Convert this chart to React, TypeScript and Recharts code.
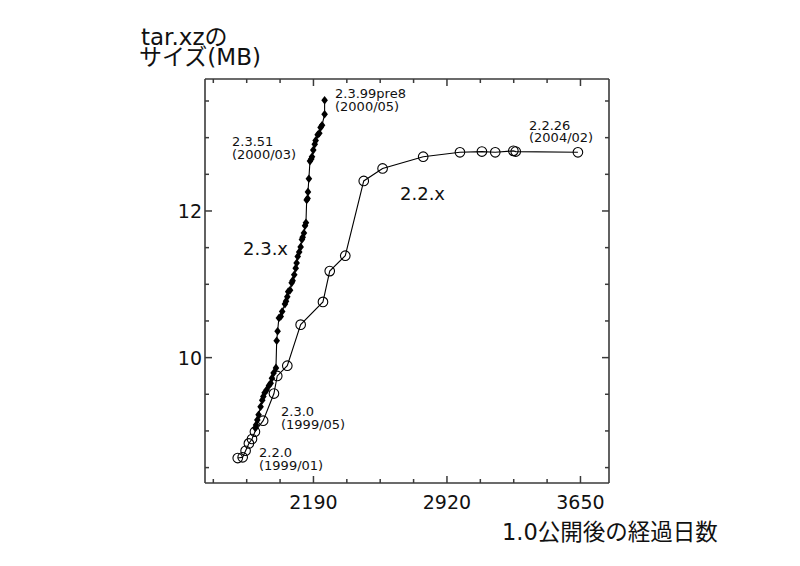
import React from "react";
import { LineChart, Line, XAxis, YAxis } from "recharts";

// ---- data ----
const days22 = [1776, 1803, 1819, 1837, 1854, 1870, 1915, 1974, 1992, 2047, 2120, 2242, 2279, 2364, 2465, 2568, 2790, 2991, 3111, 3184, 3283, 3296, 3636];
const mb22 = [8.63, 8.64, 8.73, 8.83, 8.89, 8.99, 9.14, 9.51, 9.75, 9.89, 10.45, 10.76, 11.18, 11.39, 12.41, 12.58, 12.74, 12.8, 12.81, 12.8, 12.82, 12.81, 12.8];

const days23 = [1872, 1876, 1883, 1890, 1901, 1910, 1916, 1923, 1934, 1947, 1956, 1963, 1972, 1985, 1989, 1994, 2001, 2011, 2019, 2034, 2040, 2047, 2052, 2062, 2071, 2076, 2085, 2093, 2098, 2104, 2112, 2120, 2127, 2131, 2138, 2144, 2149, 2153, 2158, 2160, 2165, 2171, 2178, 2182, 2189, 2197, 2202, 2213, 2222, 2229, 2237, 2251, 2251];
const mb23 = [9.04, 9.08, 9.15, 9.22, 9.33, 9.42, 9.47, 9.52, 9.56, 9.62, 9.65, 9.72, 9.79, 9.86, 10.23, 10.36, 10.54, 10.56, 10.63, 10.73, 10.77, 10.83, 10.9, 10.92, 11.02, 11.05, 11.13, 11.22, 11.29, 11.38, 11.44, 11.51, 11.61, 11.64, 11.7, 11.8, 11.84, 12.15, 12.17, 12.26, 12.44, 12.68, 12.71, 12.74, 12.83, 12.91, 12.96, 13.04, 13.06, 13.14, 13.17, 13.32, 13.51];

const xTicks = [1642.5, 1825, 2007.5, 2190, 2372.5, 2555, 2737.5, 2920, 3102.5, 3285, 3467.5, 3650];
const xMajorTicks = [2190, 2920, 3650];
const yTicks = [8.5, 9, 9.5, 10, 10.5, 11, 11.5, 12, 12.5, 13, 13.5];
const yMajorTicks = [10, 12];
const xDomain = [1597, 3806];
const yDomain = [8.29, 13.8];

const yTitleLines = ["tar.xzの", "サイズ(MB)"];
const xTitle = "1.0公開後の経過日数";
const seriesNames = ["2.2.x", "2.3.x"];
const notes = [
  { v: "2.3.99pre8", d: "(2000/05)" },
  { v: "2.3.51", d: "(2000/03)" },
  { v: "2.2.26", d: "(2004/02)" },
  { v: "2.3.0", d: "(1999/05)" },
  { v: "2.2.0", d: "(1999/01)" },
];

const data22 = days22.map((d, i) => ({ d, mb: mb22[i] }));
const data23 = days23.map((d, i) => ({ d, mb: mb23[i] }));

// ---- styles ----
const FONT = "'DejaVu Sans', 'Noto Sans CJK JP', sans-serif";
const AXIS = "#3a3a3a";
const TICK_FONT = 19;

const makeXTick = (top: boolean) => (props: any) => {
  const { x, y, payload } = props;
  const major = xMajorTicks.includes(payload.value);
  const len = major ? 7 : 4;
  return (
    <g>
      <line x1={x} x2={x} y1={y} y2={top ? y + len : y - len} stroke={AXIS} strokeWidth={1.5} />
      {major && !top && (
        <text x={x} y={y + 26} textAnchor="middle" fontFamily={FONT} fontSize={TICK_FONT} fill="#111">
          {payload.value}
        </text>
      )}
    </g>
  );
};

const makeYTick = (right: boolean) => (props: any) => {
  const { x, y, payload } = props;
  const major = yMajorTicks.includes(payload.value);
  const len = major ? 7 : 4;
  return (
    <g>
      <line x1={x} x2={right ? x - len : x + len} y1={y} y2={y} stroke={AXIS} strokeWidth={1.5} />
      {major && !right && (
        <text x={x - 3} y={y + 7} textAnchor="end" fontFamily={FONT} fontSize={TICK_FONT} fill="#111">
          {payload.value}
        </text>
      )}
    </g>
  );
};

const circleDot = (props: any) => {
  const { cx, cy, index } = props;
  return <circle key={`c${index}`} cx={cx} cy={cy} r={4.8} fill="none" stroke="#000" strokeWidth={1.1} />;
};

const diamondDot = (props: any) => {
  const { cx, cy, index } = props;
  const w = 3.3;
  const h = 4.3;
  return (
    <polygon
      key={`d${index}`}
      points={`${cx},${cy - h} ${cx + w},${cy} ${cx},${cy + h} ${cx - w},${cy}`}
      fill="#000"
      stroke="none"
    />
  );
};

const Note = ({ x, y, note, gap = 12.5 }: any) => (
  <text x={x} y={y} fontSize={13} fontFamily={FONT} fill="#111">
    <tspan x={x} y={y}>{note.v}</tspan>
    <tspan x={x} y={y + gap}>{note.d}</tspan>
  </text>
);

export default function App() {
  return (
    <div style={{ position: "absolute", left: 0, top: 0, width: 800, height: 566, background: "#fff" }}>
      <LineChart width={800} height={566} margin={{ top: 0, right: 0, bottom: 0, left: 0 }}>
        <XAxis
          xAxisId="b"
          dataKey="d"
          type="number"
          orientation="bottom"
          height={83}
          domain={xDomain}
          allowDataOverflow
          ticks={xTicks}
          interval={0}
          tickSize={0}
          tickMargin={0}
          tickLine={false}
          tick={makeXTick(false)}
          axisLine={{ stroke: AXIS, strokeWidth: 1.6 }}
        />
        <XAxis
          xAxisId="t"
          dataKey="d"
          type="number"
          orientation="top"
          height={79}
          domain={xDomain}
          allowDataOverflow
          ticks={xTicks}
          interval={0}
          tickSize={0}
          tickMargin={0}
          tickLine={false}
          tick={makeXTick(true)}
          axisLine={{ stroke: AXIS, strokeWidth: 1.6 }}
        />
        <YAxis
          yAxisId="l"
          type="number"
          orientation="left"
          width={205}
          domain={yDomain}
          allowDataOverflow
          ticks={yTicks}
          interval={0}
          tickSize={0}
          tickMargin={0}
          tickLine={false}
          tick={makeYTick(false)}
          axisLine={{ stroke: AXIS, strokeWidth: 1.6 }}
        />
        <YAxis
          yAxisId="r"
          type="number"
          orientation="right"
          width={191}
          domain={yDomain}
          allowDataOverflow
          ticks={yTicks}
          interval={0}
          tickSize={0}
          tickMargin={0}
          tickLine={false}
          tick={makeYTick(true)}
          axisLine={{ stroke: AXIS, strokeWidth: 1.6 }}
        />
        <Line
          xAxisId="b"
          yAxisId="l"
          data={data22}
          dataKey="mb"
          name={seriesNames[0]}
          stroke="#000"
          strokeWidth={1.1}
          dot={circleDot}
          isAnimationActive={false}
        />
        <Line
          xAxisId="b"
          yAxisId="l"
          data={data23}
          dataKey="mb"
          name={seriesNames[1]}
          stroke="#000"
          strokeWidth={1.1}
          dot={diamondDot}
          isAnimationActive={false}
        />
      </LineChart>
      <svg
        width={800}
        height={566}
        style={{ position: "absolute", left: 0, top: 0, pointerEvents: "none" }}
      >
        <text fontSize={23} fontFamily={FONT} fill="#111">
          <tspan x={141} y={45}>{yTitleLines[0]}</tspan>
          <tspan x={139} y={65}>{yTitleLines[1]}</tspan>
        </text>
        <text x={502} y={540} fontSize={22.5} fontFamily={FONT} fill="#111">{xTitle}</text>
        <text x={400} y={200} fontSize={18} fontFamily={FONT} fill="#111">{seriesNames[0]}</text>
        <text x={243} y={255} fontSize={18} fontFamily={FONT} fill="#111">{seriesNames[1]}</text>
        <Note x={335} y={98} note={notes[0]} />
        <Note x={232} y={146} note={notes[1]} />
        <Note x={529} y={129.5} note={notes[2]} />
        <Note x={281} y={416} note={notes[3]} gap={13} />
        <Note x={259} y={457} note={notes[4]} gap={13} />
      </svg>
    </div>
  );
}
